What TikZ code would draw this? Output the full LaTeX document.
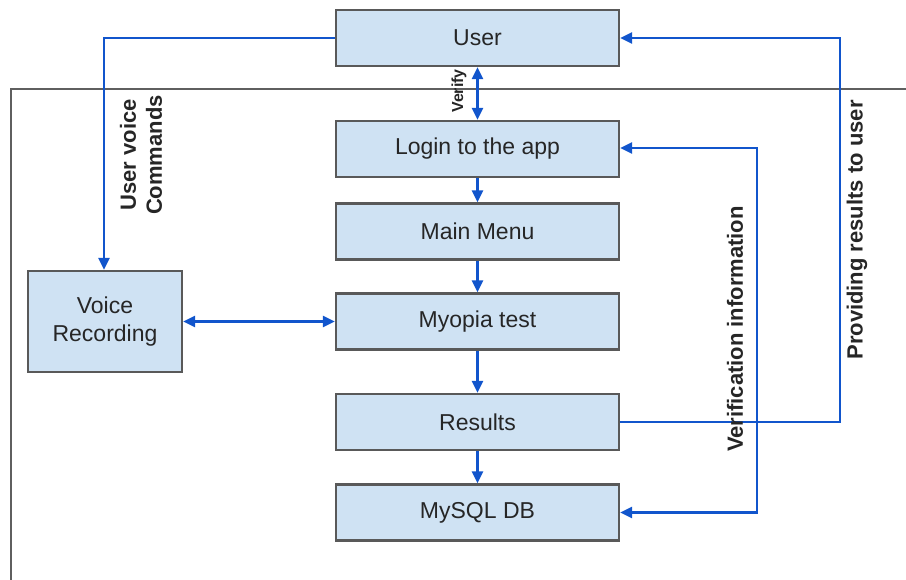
\documentclass[tikz,border=0pt]{standalone}
\usepackage{fontspec}
\setmainfont{Liberation Sans}
\usetikzlibrary{arrows.meta}
\definecolor{boxfill}{HTML}{CFE2F3}
\definecolor{boxline}{HTML}{595959}
\definecolor{arrowblue}{HTML}{1155CC}
\definecolor{framegray}{HTML}{5F5F5F}
\begin{document}
\begin{tikzpicture}[x=1pt,y=-1pt,
  box/.style={draw=boxline,line width=2.2pt,fill=boxfill,minimum width=283pt,minimum height=56pt,inner sep=0pt,font=\fontsize{23}{27}\selectfont,text=black!85},
  conn/.style={draw=arrowblue,line width=2.3pt,-{Triangle[length=12pt,width=11pt]}},
  dconn/.style={draw=arrowblue,line width=2.3pt,{Triangle[length=12pt,width=11pt]}-{Triangle[length=12pt,width=11pt]}},
  lab/.style={font=\bfseries\fontsize{22}{26}\selectfont,rotate=90,text=black!85,align=center}]
\useasboundingbox (0,0) rectangle (906,580);
\draw[framegray,line width=2.2pt] (11,582) -- (11,89) -- (908,89);
\node[box] (user) at (477.5,38) {User};
\node[box] (login) at (477.5,149) {Login to the app};
\node[box] (menu) at (477.5,231.5) {Main Menu};
\node[box] (myopia) at (477.5,321.5) {Myopia test};
\node[box] (results) at (477.5,422) {Results};
\node[box] (mysql) at (477.5,512.5) {MySQL DB};
\node[box,minimum width=154pt,minimum height=101pt,align=center,font=\fontsize{23}{28}\selectfont] (voice) at (105,321.5) {Voice\\Recording};
\coordinate (vturn) at (104,38);
\coordinate (rturn) at (840,422);
\coordinate (iturn) at (757,148);
\draw[conn] (user.west) -- (vturn) -- (voice.north -| vturn);
\draw[dconn] (voice.east) -- (myopia.west);
\draw[dconn] (user.south) -- (login.north);
\draw[conn] (login) -- (menu);
\draw[conn] (menu) -- (myopia);
\draw[conn] (myopia) -- (results);
\draw[conn] (results) -- (mysql);
\draw[conn] (results.east) -- (rturn) |- (user.east);
\draw[dconn] (login.east |- iturn) -- (iturn) |- (mysql.east);
\node[lab] at (141,155) {User voice\\Commands};
\node[lab,font=\bfseries\fontsize{16}{18}\selectfont] at (459,91) {Verify};
\node[lab] at (735,329) {Verification information};
\node[lab] at (857,230) {Providing results to user};
\end{tikzpicture}
\end{document}
